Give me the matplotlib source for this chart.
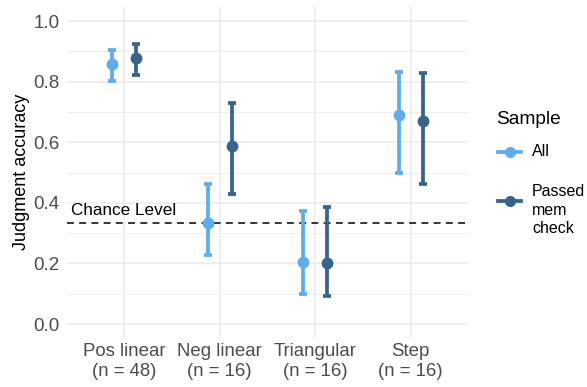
import matplotlib
matplotlib.use("Agg")
import matplotlib.pyplot as plt
from matplotlib.lines import Line2D
import numpy as np

plt.rcParams['font.family'] = ['Liberation Sans', 'DejaVu Sans']

# data
categories = ["Pos linear\n(n = 48)", "Neg linear\n(n = 16)", "Triangular\n(n = 16)", "Step\n(n = 16)"]
all_mean = [0.860, 0.334, 0.204, 0.690]
all_lo = [0.802, 0.228, 0.099, 0.499]
all_hi = [0.904, 0.464, 0.374, 0.833]
passed_mean = [0.877, 0.587, 0.200, 0.671]
passed_lo = [0.821, 0.429, 0.092, 0.463]
passed_hi = [0.923, 0.730, 0.387, 0.829]
chance = 1 / 3

groups = ["All", "Passed\nmem\ncheck"]
col_all = "#5CACEE"
col_passed = "#36648B"

W, H = 587, 387
fig = plt.figure(figsize=(W / 100, H / 100), dpi=100)
ax = fig.add_axes([67 / W, 49 / H, 401 / W, 332 / H])

x = np.arange(1, len(categories) + 1)
dodge = 0.125

def draw(xs, mean, lo, hi, col):
    mean = np.array(mean)
    yerr = [mean - np.array(lo), np.array(hi) - mean]
    ax.errorbar(xs, mean, yerr=yerr, fmt="o", color=col, ms=7.5, lw=2.7,
                capsize=2.8, capthick=2.7, zorder=3)

draw(x - dodge, all_mean, all_lo, all_hi, col_all)
draw(x + dodge, passed_mean, passed_lo, passed_hi, col_passed)

ax.axhline(chance, color="black", lw=1.1, dashes=(4.5, 3.5), zorder=2)
ax.text(0.445, chance + 0.027, "Chance Level", fontsize=12.3, color="black",
        ha="left", va="baseline")

ax.set_xlim(0.4, 4.6)
ax.set_ylim(-0.046, 1.05)
ax.set_xticks(x)
ax.set_xticklabels(categories, fontsize=13.4, color="#4D4D4D", linespacing=1.27)
ax.set_yticks(np.arange(0, 1.01, 0.2))
ax.set_yticklabels([f"{v:.1f}" for v in np.arange(0, 1.01, 0.2)], fontsize=13.6, color="#4D4D4D")
ax.set_yticks(np.arange(0.1, 1.0, 0.2), minor=True)
ax.tick_params(axis="both", which="both", length=0)
ax.tick_params(axis="y", pad=5.5)
ax.tick_params(axis="x", pad=3.5)
ax.grid(which="major", color="#EBEBEB", lw=1.1)
ax.grid(which="minor", axis="y", color="#EBEBEB", lw=0.6)
ax.set_axisbelow(True)
for s in ax.spines.values():
    s.set_visible(False)
ax.set_ylabel("Judgment accuracy", fontsize=13, labelpad=2.5)

# legend, laid out by hand like the ggplot guide
def px(xp, yp):
    return xp / W, 1 - yp / H

fig.text(*px(496, 120), "Sample", fontsize=13.8, ha="left", va="center")
key_y = [152, 200.7]
for label, col, ky in zip(groups, [col_all, col_passed], key_y):
    x0, y0 = px(498, ky)
    x1, _ = px(521, ky)
    fig.add_artist(Line2D([x0, x1], [y0, y0], color=col, lw=2.7,
                          transform=fig.transFigure))
    fig.add_artist(Line2D([(x0 + x1) / 2], [y0], color=col, marker="o", ms=7,
                          transform=fig.transFigure))
fig.text(*px(532, 152), groups[0], fontsize=11.5, ha="left", va="center")
fig.text(*px(532, 184), groups[1], fontsize=11.5, ha="left", va="top",
         linespacing=1.3)

fig.savefig("out.png", dpi=100)
